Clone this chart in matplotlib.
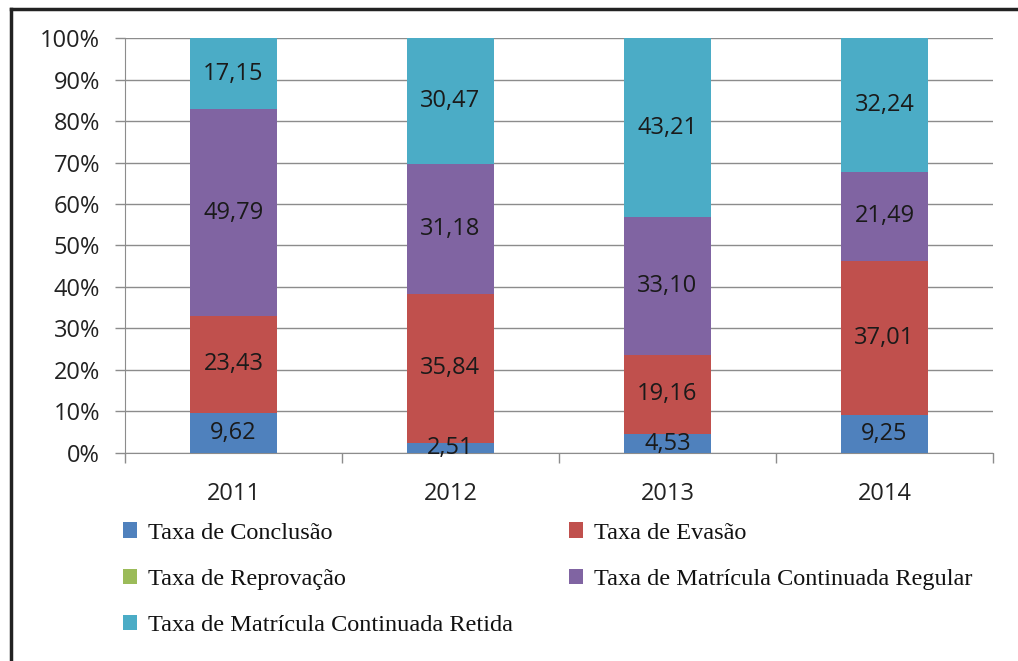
import matplotlib.pyplot as plt
import numpy as np
from matplotlib.lines import Line2D
from matplotlib.patches import Patch

years = ['2011', '2012', '2013', '2014']
conclusao = [9.62, 2.51, 4.53, 9.25]
evasao = [23.43, 35.84, 19.16, 37.01]
reprovacao = [0, 0, 0, 0]
regular = [49.79, 31.18, 33.10, 21.49]
retida = [17.15, 30.47, 43.21, 32.24]

series = [
    ('Taxa de Conclusão', conclusao, '#4F81BD'),
    ('Taxa de Evasão', evasao, '#C0504D'),
    ('Taxa de Reprovação', reprovacao, '#9BBB59'),
    ('Taxa de Matrícula Continuada Regular', regular, '#8064A2'),
    ('Taxa de Matrícula Continuada Retida', retida, '#4BACC6'),
]

fig = plt.figure(figsize=(10.18, 6.61), dpi=100)
ax = fig.add_axes([0.1228, 0.3147, 0.8526, 0.6278])

x = np.arange(len(years))
totals = np.sum([s[1] for s in series], axis=0)
bottom = np.zeros(len(years))
handles = {}
for name, vals, color in series:
    pct = np.array(vals) / totals * 100
    ax.bar(x, pct, 0.4, bottom=bottom, color=color, zorder=3)
    handles[name] = Patch(facecolor=color)
    for xi, v, b, p in zip(x, vals, bottom, pct):
        if v > 0:
            ax.text(xi, b + p / 2, f'{v:.2f}'.replace('.', ','), ha='center', va='center',
                    fontsize=17, color='#1a1a1a', family='Open Sans', zorder=4)
    bottom = bottom + pct

ax.set_xlim(-0.5, 3.5)
ax.set_ylim(0, 100)
ax.set_yticks(np.arange(0, 101, 10))
ax.set_yticklabels([f'{v}%' for v in range(0, 101, 10)], family='Open Sans', fontsize=17, color='#222222')
ax.yaxis.grid(True, color='#8c8c8c', lw=1, zorder=0)
ax.set_xticks(np.arange(-0.5, 4, 1))
ax.set_xticklabels([])
ax.set_xticks(x, minor=True)
ax.set_xticklabels(years, minor=True, family='Open Sans', fontsize=17, color='#222222')
ax.tick_params(axis='x', which='major', length=7, color='#8c8c8c', width=1)
ax.tick_params(axis='x', which='minor', length=0, pad=21)
ax.tick_params(axis='y', length=7, color='#8c8c8c', width=1, pad=11)
for s in ['top', 'right']:
    ax.spines[s].set_visible(False)
for s in ['left', 'bottom']:
    ax.spines[s].set_color('#8c8c8c')

col1 = ['Taxa de Conclusão', 'Taxa de Reprovação', 'Taxa de Matrícula Continuada Retida']
col2 = ['Taxa de Evasão', 'Taxa de Matrícula Continuada Regular']
leg_kw = dict(loc='upper left', frameon=False,
              prop={'family': 'Liberation Serif', 'size': 17.5},
              handlelength=0.6, handleheight=0.6, handletextpad=0.45,
              labelspacing=1.03, labelcolor='#111111')
fig.legend([handles[n] for n in col1], col1, bbox_to_anchor=(0.099, 0.243), **leg_kw)
fig.legend([handles[n] for n in col2], col2, bbox_to_anchor=(0.537, 0.243), **leg_kw)

fig.add_artist(Line2D([0.011, 0.011], [0, 0.987], transform=fig.transFigure, color='#222222', lw=2.5))
fig.add_artist(Line2D([0.011, 1.0], [0.987, 0.987], transform=fig.transFigure, color='#222222', lw=2.5))

fig.savefig('out.png', dpi=100)
